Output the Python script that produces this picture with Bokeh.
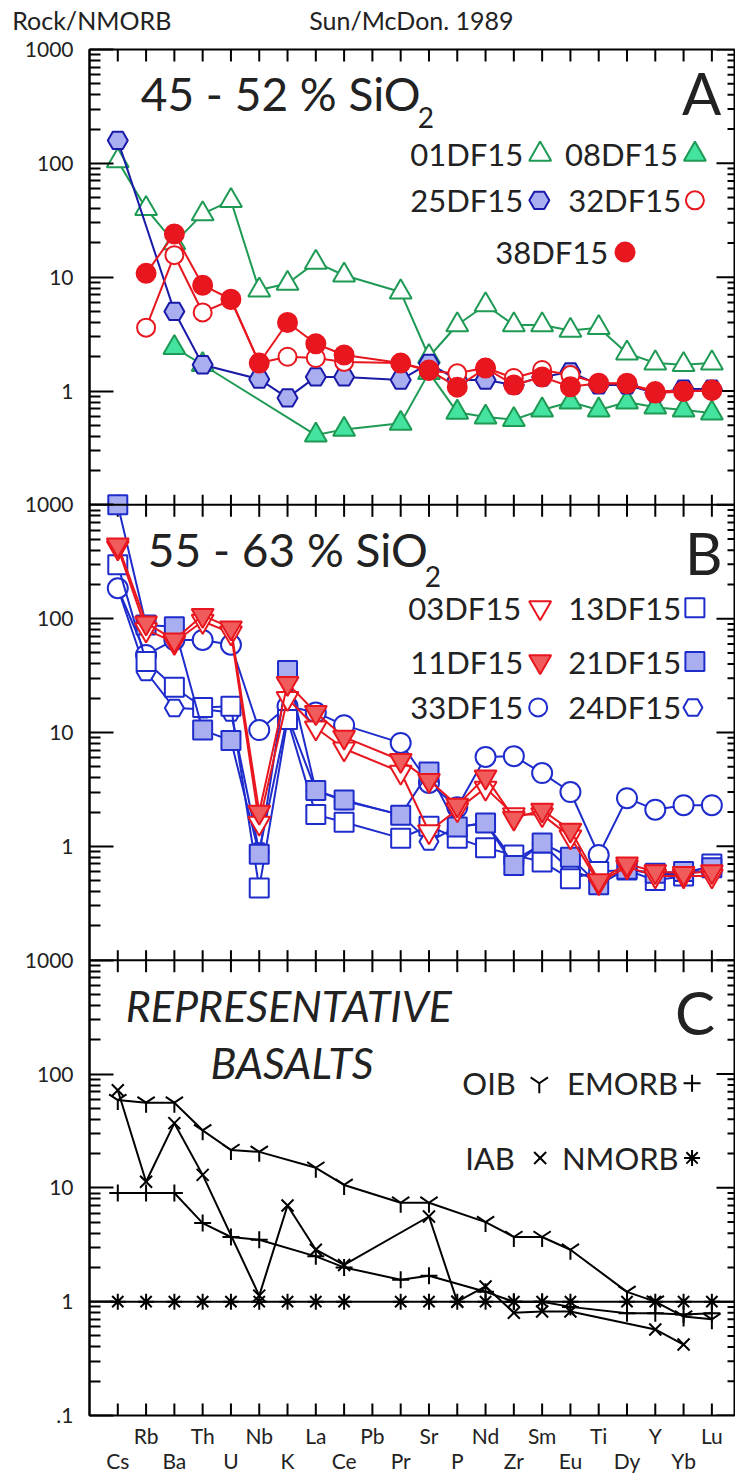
import math
from bokeh.plotting import figure
from bokeh.models import Range1d, LogScale, LogAxis, LinearAxis, FixedTicker, Span, Label
from bokeh.embed import file_html
from bokeh.resources import INLINE

# Spider diagram: trace elements normalised to N-MORB (Sun & McDonough 1989)
elements = ["Cs", "Rb", "Ba", "Th", "U", "Nb", "K", "La", "Ce", "Pb", "Pr",
            "Sr", "P", "Nd", "Zr", "Sm", "Eu", "Ti", "Dy", "Y", "Yb", "Lu"]

# Panel A: 45 - 52 % SiO2
a_01DF15 = [105, 40, 20, 36, 47, 7.7, 8.8, 13.5, 10.4, None, 7.4, 2.0, 3.8, 5.7, 3.8, 3.8, 3.4, 3.6, 2.15, 1.76, 1.7, 1.76]
a_08DF15 = [None, None, 2.4, 1.7, None, None, None, 0.41, 0.46, None, 0.52, 1.45, 0.65, 0.59, 0.56, 0.68, 0.80, 0.68, 0.80, 0.72, 0.68, 0.64]
a_25DF15 = [159, None, 5.0, 1.7, None, 1.27, 0.87, 1.33, 1.33, None, 1.25, 1.75, 1.25, 1.25, 1.13, 1.33, 1.47, 1.13, 1.13, 0.96, 1.04, 1.04]
a_32DF15 = [None, 3.6, 15.6, 4.9, 6.3, 1.76, 2.0, 1.95, 1.8, None, 1.76, 1.5, 1.43, 1.6, 1.3, 1.53, 1.38, 1.17, 1.15, 1.0, 1.0, 1.0]
a_38DF15 = [None, 10.8, 24, 8.5, 6.4, 1.76, 4.0, 2.6, 2.07, None, 1.76, 1.53, 1.08, 1.59, 1.13, 1.33, 1.09, 1.17, 1.17, 0.96, 0.99, 1.02]

# Panel B: 55 - 63 % SiO2
b_03DF15 = [420, 80, 62, 95, 75, 1.6, 20, 11, 7.2, None, 4.5, 1.35, 2.1, 3.25, 1.9, 1.9, 1.21, 0.48, 0.66, 0.55, 0.55, 0.55]
b_11DF15 = [445, 92, 65, 107, 83, 2.0, 27, 15, 9.1, None, 5.7, 3.8, 2.3, 4.07, 1.77, 2.08, 1.39, 0.5, 0.7, 0.6, 0.58, 0.6]
b_13DF15 = [297, 42, 25, 16.6, 17, 0.43, 13, 1.9, 1.63, None, 1.18, 1.5, 1.18, 0.97, 0.84, 0.73, 0.52, 0.6, 0.62, 0.5, 0.55, 0.7]
b_21DF15 = [1000, 88, 85, 10.5, 8.5, 0.85, 35, 3.1, 2.55, None, 1.88, 4.5, 1.48, 1.6, 0.68, 1.07, 0.8, 0.46, 0.63, 0.58, 0.6, 0.65]
b_33DF15 = [185, 48, 65, 65, 59, 10.5, 17, 15, 11.6, None, 8.1, 3.6, 2.2, 6.1, 6.2, 4.4, 3.0, 0.84, 2.65, 2.1, 2.3, 2.3]
b_24DF15 = [185, 34, 16.4, 16, 15, 0.9, 14, 3.1, 2.5, None, 1.9, 1.1, 1.48, 1.6, 0.75, 1.05, 0.62, 0.5, 0.63, 0.57, 0.57, 0.62]

# Panel C: representative basalts
c_OIB = [59, 56, 56, 32, 21.5, 20.7, None, 15, 10.6, None, 7.4, 7.4, None, 5.0, 3.7, 3.7, 2.86, None, 1.22, 1.0, 0.74, 0.70]
c_EMORB = [9.0, 9.0, 9.0, 4.9, 3.7, 3.5, None, 2.5, 2.0, None, 1.56, 1.69, None, 1.22, 1.0, 1.0, 0.9, None, 0.79, 0.79, 0.77, 0.79]
c_IAB = [72, 11.3, 37, 13, None, 1.13, 7.0, 2.86, 2.1, None, None, 5.6, 1.0, 1.36, 0.80, 0.82, 0.82, None, None, 0.57, 0.42, None]
c_NMORB = [1, 1, 1, 1, 1, 1, 1, 1, 1, None, 1, 1, 1, 1, 1, 1, 1, None, 1, 1, 1, 1]

# captions above the frame, centred at these x positions
captions = {-0.92: "Rock/NMORB", 10.38: "Sun/McDon. 1989"}

FONT = "Lato"
INK = "#222222"
GREEN = "#1f9a55"
MINT = "#45e3a0"
RED = "#e8161e"
PINK = "#f05c5c"
NAVY = "#1a1aa8"
LAVENDER = "#a9aef0"
BLUE = "#1f2ccc"

X_END = 21.8
p = figure(width=735, height=1475, output_backend="svg", toolbar_location=None,
           x_range=Range1d(-1, X_END), y_range=Range1d(0.1, 1e11),
           y_axis_type="log", x_axis_location=None, y_axis_location=None,
           min_border_left=89, min_border_right=1, min_border_top=49, min_border_bottom=58)
p.grid.visible = False
p.outline_line_color = "black"
p.outline_line_width = 2
p.background_fill_color = "white"
p.border_fill_color = "white"

# three stacked panels share one frame; each gets its own log range
p.extra_y_ranges = {"A": Range1d(1e-9, 1e3), "B": Range1d(1e-5, 1e7)}
p.extra_y_scales = {"A": LogScale(), "B": LogScale()}

decades = [0.1] + [float(10 ** k) for k in range(0, 12)]
minor = [m * 10.0 ** k for k in range(-1, 11) for m in range(2, 10)]
panel_labels = [".1", "1", "10", "100", "1000"] + ["1", "10", "100", "1000"] * 2
overrides = {d: t for d, t in zip(decades, panel_labels)}

left = LogAxis(ticker=FixedTicker(ticks=decades, minor_ticks=minor),
               major_label_overrides=overrides,
               major_tick_in=24, major_tick_out=0, minor_tick_in=11, minor_tick_out=0,
               axis_line_width=2, major_tick_line_width=2, minor_tick_line_width=2,
               major_label_standoff=16, major_label_text_font=FONT,
               major_label_text_font_size="21px", major_label_text_color=INK)
p.add_layout(left, "left")

head = LinearAxis(ticker=FixedTicker(ticks=list(captions)),
                  major_label_overrides=captions,
                  axis_line_color=None, major_tick_line_color=None,
                  major_tick_in=0, major_tick_out=0,
                  major_label_standoff=15, major_label_text_font=FONT,
                  major_label_text_font_size="25px", major_label_text_color=INK)
p.add_layout(head, "above")

idx = list(range(len(elements)))
odd = idx[1::2]
even = idx[::2]
row1 = LinearAxis(ticker=FixedTicker(ticks=odd),
                  major_label_overrides={i: elements[i] for i in odd},
                  axis_line_color=None, major_tick_line_color=None,
                  major_tick_in=0, major_tick_out=0,
                  major_label_standoff=7, major_label_text_font=FONT,
                  major_label_text_font_size="21px", major_label_text_color=INK)
p.add_layout(row1, "below")
row2 = LinearAxis(ticker=FixedTicker(ticks=even),
                  major_label_overrides={i: elements[i] for i in even},
                  axis_line_color=None, major_tick_line_color=None,
                  major_tick_in=0, major_tick_out=0,
                  major_label_standoff=-3, major_label_text_font=FONT,
                  major_label_text_font_size="21px", major_label_text_color=INK)
p.add_layout(row2, "below")

UP, DOWN, LEFT = math.pi / 2, -math.pi / 2, math.pi


def ticks(xs, ys, angle, length, rng="default"):
    p.ray(xs, ys, length=length, length_units="screen", angle=angle,
          line_color="black", line_width=2, y_range_name=rng)


# element ticks along the top and bottom of the frame
ticks(idx, [1e11] * len(idx), DOWN, 12)
ticks(idx, [0.1] * len(idx), UP, 12)
# right-hand log ticks
ticks([X_END] * len(decades), decades, LEFT, 18)
ticks([X_END] * len(minor), minor, LEFT, 7)

# panel boundaries with crossing ticks
for b in (1e7, 1e3):
    p.add_layout(Span(location=b, dimension="width", line_color="black", line_width=2))
    ticks(idx, [b] * len(idx), UP, 10)
    ticks(idx, [b] * len(idx), DOWN, 12)
p.add_layout(Span(location=1, dimension="width", line_color="black", line_width=2))


def series(vals, rng, color, marker, size, fill, lw=2):
    xs = [i for i, v in enumerate(vals) if v is not None]
    ys = [v for v in vals if v is not None]
    p.line(xs, ys, line_color=color, line_width=lw, y_range_name=rng)
    p.scatter(xs, ys, marker=marker, size=size, line_color=color, fill_color=fill,
              line_width=lw, y_range_name=rng)


def text(x, y, s, rng, size, style="normal"):
    p.add_layout(Label(x=x, y=y, text=s, y_range_name=rng, text_font=FONT,
                       text_font_size=size, text_font_style=style, text_color=INK,
                       text_baseline="middle", text_align="left"))


def key(x, y, rng, color, marker, size, fill):
    p.scatter([x], [y], marker=marker, size=size, line_color=color, fill_color=fill,
              line_width=2, y_range_name=rng)


# ---- panel A
series(a_01DF15, "A", GREEN, "triangle", 22, "white")
series(a_08DF15, "A", GREEN, "triangle", 22, MINT)
series(a_25DF15, "A", NAVY, "hex", 20, LAVENDER)
series(a_32DF15, "A", RED, "circle", 18, "white")
series(a_38DF15, "A", RED, "circle", 19, RED)

text(0.81, 411, "45 - 52 % SiO", "A", "46px")
text(10.6, 255, "2", "A", "28px")
text(19.94, 420, "A", "A", "58px")
text(10.34, 120, "01DF15", "A", "31px")
key(14.93, 120, "A", GREEN, "triangle", 22, "white")
text(15.81, 120, "08DF15", "A", "31px")
key(20.4, 120, "A", GREEN, "triangle", 22, MINT)
text(10.34, 47.3, "25DF15", "A", "31px")
key(14.9, 47.3, "A", NAVY, "hex", 20, LAVENDER)
text(15.92, 47.3, "32DF15", "A", "31px")
key(20.4, 47.3, "A", RED, "circle", 18, "white")
text(13.34, 16.6, "38DF15", "A", "31px")
key(17.93, 16.6, "A", RED, "circle", 19, RED)

# ---- panel B
series(b_24DF15, "B", BLUE, "hex", 19, "white")
series(b_33DF15, "B", BLUE, "circle", 20, "white")
series(b_13DF15, "B", BLUE, "square", 19, "white")
series(b_21DF15, "B", BLUE, "square", 19, LAVENDER)
series(b_03DF15, "B", RED, "inverted_triangle", 22, "white")
series(b_11DF15, "B", RED, "inverted_triangle", 22, PINK)

text(1.06, 403, "55 - 63 % SiO", "B", "46px")
text(10.85, 236, "2", "B", "28px")
text(20.05, 380, "B", "B", "58px")
text(10.27, 125, "03DF15", "B", "31px")
key(14.93, 125, "B", RED, "inverted_triangle", 22, "white")
text(15.92, 125, "13DF15", "B", "31px")
key(20.4, 125, "B", BLUE, "square", 19, "white")
text(10.34, 42, "11DF15", "B", "31px")
key(14.93, 42, "B", RED, "inverted_triangle", 22, PINK)
text(15.92, 42, "21DF15", "B", "31px")
key(20.4, 42, "B", BLUE, "square", 19, LAVENDER)
text(10.34, 16.6, "33DF15", "B", "31px")
key(14.86, 16.6, "B", BLUE, "circle", 18, "white")
text(15.92, 16.6, "24DF15", "B", "31px")
key(20.33, 16.6, "B", BLUE, "hex", 19, "white")

# ---- panel C
series(c_OIB, "default", "black", "y", 20, None)
series(c_EMORB, "default", "black", "cross", 17, None)
series(c_IAB, "default", "black", "x", 17, None)
p.scatter([i for i, v in enumerate(c_NMORB) if v is not None],
          [v for v in c_NMORB if v is not None],
          marker="asterisk", size=16, line_color="black", line_width=2)

text(0.28, 403, "REPRESENTATIVE", "default", "43px", "italic")
text(3.28, 127, "BASALTS", "default", "43px", "italic")
text(19.7, 350, "C", "default", "60px")
text(12.18, 83, "OIB", "default", "31px")
key(14.9, 83, "default", "black", "y", 20, None)
text(15.88, 83, "EMORB", "default", "31px")
key(20.3, 83, "default", "black", "cross", 17, None)
text(12.28, 18.3, "IAB", "default", "31px")
key(14.93, 18.3, "default", "black", "x", 17, None)
text(15.7, 18.3, "NMORB", "default", "31px")
key(20.3, 18.3, "default", "black", "asterisk", 16, None)

open("out.html", "w").write(file_html(p, INLINE))
